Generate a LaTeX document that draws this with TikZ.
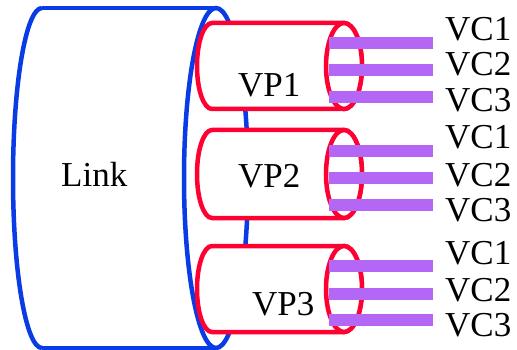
\documentclass[tikz,border=0pt]{standalone}
\usepackage{fontspec}
\setmainfont{Liberation Serif}
\definecolor{linkblue}{RGB}{10,60,230}
\definecolor{vpred}{RGB}{255,0,51}
\definecolor{vcpurple}{RGB}{180,102,245}
\tikzset{
  linkline/.style={draw=linkblue, line width=4.5pt},
  vpline/.style={draw=vpred, line width=4.5pt, fill=white},
  vcbar/.style={draw=vcpurple, line width=12.5pt},
  lbl/.style={inner sep=0pt, anchor=base west, font=\fontsize{35}{36}\selectfont},
}
\begin{document}
\begin{tikzpicture}[x=1pt, y=-1pt]
\useasboundingbox (0,0) rectangle (517,350);
% Link cylinder
\draw[linkline] (42,8) -- (216,8);
\draw[linkline] (42,348) -- (216,348);
\draw[linkline] (42,8) arc[start angle=270, end angle=90, x radius=29, y radius=170];
\draw[linkline] (216,178) ellipse[x radius=32, y radius=170];
\node[lbl] (link) at (61,186) {Link};
% VP cylinders
\foreach \c/\r/\n in {66/43/1, 174/44/2, 289/43/3}{
  \path[vpline] (212,\c-\r) -- (344,\c-\r)
     arc[start angle=-90, end angle=90, x radius=18, y radius=\r]
     -- (212,\c+\r)
     arc[start angle=90, end angle=270, x radius=15, y radius=\r] -- cycle;
  \draw[vpline] (344,\c) ellipse[x radius=18, y radius=\r];
}
\node[lbl] (vp1) at (238,97) {VP1};
\node[lbl] (vp2) at (238,188) {VP2};
\node[lbl] (vp3) at (252,315) {VP3};
% VC bars
\foreach \y in {43,70,97,151,178,205,266,294,320}{
  \draw[vcbar] (329,\y) -- (433,\y);
}
% VC labels
\node[lbl] (vc11) at (445,40.5) {VC1};
\node[lbl] (vc12) at (445,76) {VC2};
\node[lbl] (vc13) at (445,112) {VC3};
\node[lbl] (vc21) at (445,149) {VC1};
\node[lbl] (vc22) at (445,186) {VC2};
\node[lbl] (vc23) at (445,221) {VC3};
\node[lbl] (vc31) at (445,264) {VC1};
\node[lbl] (vc32) at (445,301) {VC2};
\node[lbl] (vc33) at (445,336) {VC3};
\end{tikzpicture}
\end{document}
